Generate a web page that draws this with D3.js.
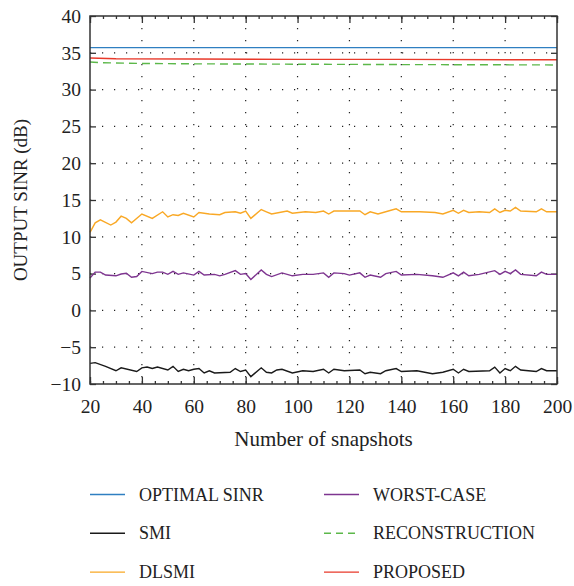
<!DOCTYPE html>
<html lang="en">
<head>
<meta charset="UTF-8">
<title>Output SINR vs snapshots</title>
<script src="https://d3js.org/d3.v7.min.js"></script>
<style>
    body { margin: 0; background: #fff; }
    .grid line { stroke: #222; stroke-width: 1.2; stroke-dasharray: 1.2, 10.8; }
    .series { fill: none; stroke-width: 1.4; }
</style>
</head>
<body>
<svg id="chart" width="574" height="586"></svg>
<script>
// x ticks / y ticks
const xTicks = [20, 40, 60, 80, 100, 120, 140, 160, 180, 200];
const yTicks = [-10, -5, 0, 5, 10, 15, 20, 25, 30, 35, 40];

// series readings (snapshots, SINR dB)
const optimalX = [20, 200];
const optimalY = [35.7, 35.7];

const proposedX = [20, 30, 60, 100, 140, 200];
const proposedY = [34.3, 34.2, 34.15, 34.1, 34.1, 34.05];

const reconX = [20, 24, 40, 60, 100, 140, 200];
const reconY = [33.75, 33.65, 33.55, 33.5, 33.45, 33.4, 33.35];

const dlsmiX = [20, 22, 24, 28, 30, 32, 34, 36, 40, 44, 48, 50, 52, 54, 56, 60, 62, 66, 70, 72, 76, 78, 80, 82, 86, 88, 90, 96,
    98, 103, 107, 110, 112, 114, 119, 124, 126, 128, 131, 135, 138, 140, 147, 153, 156, 160, 162, 164, 166, 170, 174, 176, 178, 180, 182, 184, 186, 192, 194, 196, 200];
const dlsmiY = [10.6, 11.9, 12.3, 11.6, 12.0, 12.8, 12.5, 11.9, 13.1, 12.5, 13.4, 12.7, 13.0, 12.9, 13.2, 12.7, 13.3, 13.1, 13.0, 13.3, 13.4, 13.2, 13.5, 12.5, 13.7, 13.4, 13.1, 13.5,
    13.2, 13.4, 13.3, 13.5, 13.1, 13.5, 13.5, 13.5, 13.0, 13.4, 13.1, 13.5, 13.8, 13.4, 13.4, 13.3, 13.1, 13.6, 13.2, 13.6, 13.3, 13.4, 13.3, 13.8, 13.3, 13.6, 13.5, 14.0, 13.5, 13.4, 13.8, 13.4, 13.4];

const worstX = [20, 22, 24, 26, 30, 32, 34, 36, 38, 40, 44, 46, 48, 50, 52, 54, 56, 60, 62, 64, 68, 70, 72, 76, 78, 80, 82, 86, 88, 90, 94,
    98, 102, 106, 110, 112, 114, 118, 120, 124, 126, 128, 132, 134, 138, 140, 146, 152, 156, 160, 162, 164, 166, 170, 176, 178, 180, 182, 184, 186, 192, 194, 196, 200];
const worstY = [4.4, 5.2, 5.2, 4.8, 4.7, 4.95, 5.05, 4.5, 4.6, 5.3, 5.0, 5.2, 5.2, 4.9, 5.3, 4.9, 5.1, 4.8, 5.3, 4.8, 4.9, 4.7, 4.9, 5.4, 4.9, 5.0, 4.2, 5.5, 4.9, 4.6, 5.1,
    4.7, 4.9, 4.9, 5.1, 4.5, 5.1, 5.0, 4.8, 5.1, 4.5, 4.8, 4.5, 5.0, 5.3, 4.8, 4.9, 4.7, 4.5, 5.1, 4.7, 5.2, 4.7, 4.9, 5.4, 4.9, 5.3, 5.0, 5.5, 4.9, 4.7, 5.2, 4.9, 4.9];

const smiX = [20, 22, 26, 30, 32, 38, 40, 42, 44, 46, 50, 52, 54, 56, 58, 60, 62, 64, 66, 68, 74, 76, 78, 80, 82, 86, 88, 90, 92, 94,
    98, 102, 106, 110, 112, 114, 118, 124, 126, 128, 132, 134, 138, 140, 146, 152, 156, 160, 162, 164, 166, 174, 176, 178, 180, 182, 184, 186, 192, 194, 196, 200];
const smiY = [-7.2, -7.1, -7.6, -8.2, -7.8, -8.3, -7.8, -7.7, -7.9, -7.7, -8.1, -7.6, -8.3, -8.0, -8.2, -8.0, -7.9, -8.5, -8.2, -8.5, -8.4, -7.9, -8.3, -8.1, -9.0, -7.8, -8.4, -8.5, -8.1, -8.0,
    -8.5, -8.2, -8.3, -8.0, -8.5, -8.0, -8.2, -8.1, -8.6, -8.4, -8.6, -8.2, -7.9, -8.3, -8.2, -8.6, -8.4, -8.0, -8.5, -8.0, -8.3, -8.2, -7.7, -8.5, -7.9, -8.2, -7.6, -8.1, -8.3, -7.9, -8.2, -8.2];

const seriesNames = ["OPTIMAL SINR", "SMI", "DLSMI", "WORST-CASE", "RECONSTRUCTION", "PROPOSED"];
const seriesColors = ["#2f7fc1", "#1a1a1a", "#f9a825", "#7e3590", "#5cb84a", "#e8392a"];
const seriesXs = [optimalX, smiX, dlsmiX, worstX, reconX, proposedX];
const seriesYs = [optimalY, smiY, dlsmiY, worstY, reconY, proposedY];

const FONT = "Liberation Serif";
const svg = d3.select("#chart");
const margin = { top: 16, right: 17, bottom: 202, left: 90 };
const width = 574 - margin.left - margin.right;
const height = 586 - margin.top - margin.bottom;

const x = d3.scaleLinear().domain([20, 200]).range([0, width]);
const y = d3.scaleLinear().domain([-10, 40]).range([height, 0]);

const g = svg.append("g").attr("transform", `translate(${margin.left},${margin.top})`);

// dotted grid
const grid = g.append("g").attr("class", "grid");
grid.selectAll(".gx").data(xTicks.slice(1, -1)).enter().append("line")
    .attr("x1", d => x(d)).attr("x2", d => x(d))
    .attr("y1", 0).attr("y2", height);
grid.selectAll(".gy").data(yTicks.slice(1, -1)).enter().append("line")
    .attr("x1", 0).attr("x2", width)
    .attr("y1", d => y(d)).attr("y2", d => y(d));

// axes (ticks inward)
const minorX = d3.range(20, 201, 5);
function styleAxis(sel) {
    sel.attr("font-family", FONT).attr("font-size", 19.5);
    sel.select(".domain").remove();
    sel.selectAll(".tick line").attr("stroke", "#333").attr("stroke-width", 1.3);
    sel.selectAll(".tick text").attr("fill", "#222");
}
g.append("g").attr("transform", `translate(0,${height})`)
    .call(d3.axisBottom(x).tickValues(minorX).tickSize(-3).tickFormat(""))
    .call(styleAxis);
g.append("g").attr("transform", `translate(0,${height})`)
    .call(d3.axisBottom(x).tickValues(xTicks).tickSize(-7).tickPadding(15).tickFormat(d3.format("d")))
    .call(styleAxis);
g.append("g")
    .call(d3.axisTop(x).tickValues(minorX).tickSize(-3).tickFormat(""))
    .call(styleAxis);
g.append("g")
    .call(d3.axisTop(x).tickValues(xTicks).tickSize(-7).tickFormat(""))
    .call(styleAxis);
g.append("g")
    .call(d3.axisLeft(y).tickValues(yTicks).tickSize(-6).tickPadding(9).tickFormat(d => d < 0 ? "\u2212" + Math.abs(d) : d))
    .call(styleAxis);
g.append("g").attr("transform", `translate(${width},0)`)
    .call(d3.axisRight(y).tickValues(yTicks).tickSize(-6).tickFormat(""))
    .call(styleAxis);

// series
const line = d3.line().x(d => x(d[0])).y(d => y(d[1]));
seriesNames.forEach((name, i) => {
    const pts = seriesXs[i].map((v, j) => [v, seriesYs[i][j]]);
    g.append("path")
        .datum(pts)
        .attr("class", "series")
        .attr("stroke", seriesColors[i])
        .attr("stroke-dasharray", name === "RECONSTRUCTION" ? "8,5" : null)
        .attr("d", line);
});

// frame
g.append("rect").attr("width", width).attr("height", height)
    .attr("fill", "none").attr("stroke", "#333").attr("stroke-width", 1.5);

// axis titles
g.append("text")
    .attr("font-family", FONT).attr("font-size", 21).attr("fill", "#222")
    .attr("x", width / 2).attr("y", height + 62)
    .attr("text-anchor", "middle")
    .text("Number of snapshots");
g.append("text")
    .attr("font-family", FONT).attr("font-size", 19).attr("fill", "#222")
    .attr("transform", "rotate(-90)")
    .attr("x", -height / 2).attr("y", -63)
    .attr("text-anchor", "middle")
    .text("OUTPUT SINR (dB)");

// legend: two columns, three rows
const legend = svg.append("g");
seriesNames.forEach((name, i) => {
    const col = i < 3 ? 0 : 1;
    const row = i % 3;
    const lx = col === 0 ? 90 : 324;
    const ly = 494.5 + row * 38.8;
    legend.append("line")
        .attr("x1", lx).attr("x2", lx + 35)
        .attr("y1", ly).attr("y2", ly)
        .attr("stroke", seriesColors[i]).attr("stroke-width", 1.4)
        .attr("stroke-dasharray", name === "RECONSTRUCTION" ? "7,5" : null);
    legend.append("text")
        .attr("font-family", FONT).attr("font-size", 18).attr("fill", "#222")
        .attr("x", lx + 49).attr("y", ly + 6)
        .text(name);
});
</script>
</body>
</html>
